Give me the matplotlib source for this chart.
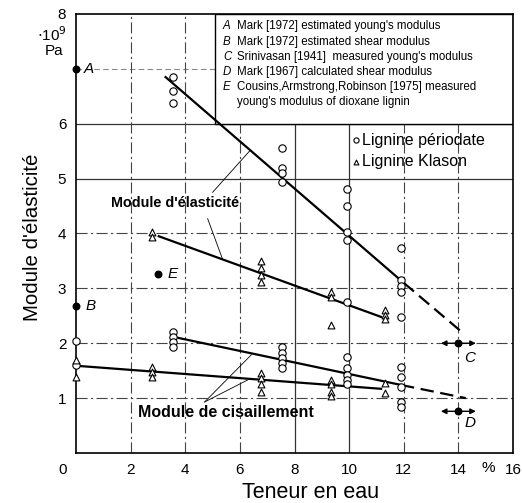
import matplotlib
matplotlib.use("Agg")
import matplotlib.pyplot as plt
from matplotlib.patches import Rectangle
from matplotlib.transforms import ScaledTranslation

# --------------------------
# DATA (water content %, modulus 1e9 Pa)
# --------------------------
# young's modulus, periodate lignin
e_per_x = [3.54] * 3 + [7.55] * 4 + [9.93] * 5 + [11.9] * 5
e_per_y = [6.85, 6.6, 6.38,
           5.55, 5.2, 5.1, 4.93,
           4.82, 4.5, 4.02, 3.88, 2.76,
           3.74, 3.16, 3.05, 2.94, 2.47]
# young's modulus, klason lignin
e_kla_x = [2.77] * 2 + [6.79] * 4 + [9.34] * 3 + [11.3] * 3
e_kla_y = [4.03, 3.94,
           3.49, 3.38, 3.25, 3.12,
           2.94, 2.85, 2.34,
           2.61, 2.52, 2.45]
# shear modulus, periodate lignin
g_per_x = [0.0] * 2 + [3.54] * 4 + [7.55] * 5 + [9.93] * 5 + [11.9] * 5
g_per_y = [2.05, 1.6,
           2.21, 2.12, 2.03, 1.93,
           1.94, 1.83, 1.74, 1.64, 1.55,
           1.75, 1.55, 1.42, 1.33, 1.26,
           1.57, 1.39, 1.21, 0.93, 0.84]
# shear modulus, klason lignin
g_kla_x = [0.0] * 2 + [2.77] * 3 + [6.79] * 4 + [9.34] * 4 + [11.3] * 2
g_kla_y = [1.7, 1.38,
           1.57, 1.48, 1.39,
           1.46, 1.37, 1.26, 1.11,
           1.33, 1.26, 1.11, 1.04,
           1.28, 1.1]

# fitted lines: solid part, then dashed extrapolation
e_per_fit_x = [3.28, 12.0, 14.09]
e_per_fit_y = [6.85, 3.1, 2.22]
e_kla_fit_x = [3.03, 11.17]
e_kla_fit_y = [3.95, 2.48]
g_per_fit_x = [3.72, 11.9, 14.27]
g_per_fit_y = [2.1, 1.24, 1.0]
g_kla_fit_x = [0.0, 11.17]
g_kla_fit_y = [1.59, 1.17]

# literature values
ref_names = ['A', 'B', 'C', 'D', 'E']
ref_x = [0.0, 0.0, 14.0, 14.0, 3.0]
ref_y = [7.0, 2.67, 2.0, 0.76, 3.27]
ref_text = [
    "Mark [1972] estimated young's modulus",
    "Mark [1972] estimated shear modulus",
    "Srinivasan [1941]  measured young's modulus",
    "Mark [1967] calculated shear modulus",
    "Cousins,Armstrong,Robinson [1975] measured",
]
ref_text_extra = "young's modulus of dioxane lignin"

xticks = [0, 2, 4, 6, 8, 10, 12, 14, 16]
yticks = [1, 2, 3, 4, 5, 6, 8]

# --------------------------
# FIGURE
# --------------------------
sans = ['Liberation Sans', 'DejaVu Sans']

fig = plt.figure(figsize=(5.22, 5.03), dpi=100)
ax = fig.add_axes([76 / 522, 1 - 453 / 503, 437 / 522, 439 / 503])
ax.set_xlim(0, 16)
ax.set_ylim(0, 8)

# grid
solid_h = [5, 6]
dash_h = [1, 2, 3, 4]
solid_v = [8, 10]
dash_v = [2, 4, 6, 12, 14]
for y in solid_h:
    ax.axhline(y, color='#333333', lw=0.9, zorder=1)
for y in dash_h:
    ax.axhline(y, color='#444444', lw=0.8, ls=(0, (10, 3, 2, 3)), zorder=1)
ax.axhline(7, color='#888888', lw=0.8, ls=(0, (5, 3)), zorder=1)
for x in solid_v:
    ax.axvline(x, color='#333333', lw=0.9, zorder=1)
for x in dash_v:
    ax.axvline(x, color='#444444', lw=0.8, ls=(0, (10, 3, 2, 3)), zorder=1)

# reference box
ax.add_patch(Rectangle((5.1, 6.0), 10.9, 2.0, facecolor='white',
                       edgecolor='black', lw=1.0, zorder=2))
row_y = [7.78, 7.49, 7.21, 6.94, 6.67, 6.39]
for i, name in enumerate(ref_names):
    ax.text(5.38, row_y[i], name, family=sans, style='italic',
            fontsize=8.3, va='center', zorder=3)
    ax.text(5.88, row_y[i], ref_text[i], family=sans,
            fontsize=8.3, va='center', zorder=3)
ax.text(5.88, row_y[5], ref_text_extra, family=sans,
        fontsize=8.3, va='center', zorder=3)

# fitted lines
ax.plot(e_per_fit_x[:2], e_per_fit_y[:2], color='black', lw=1.6, zorder=3)
ax.plot(e_per_fit_x[1:], e_per_fit_y[1:], color='black', lw=1.6,
        ls=(0, (6, 3)), zorder=3)
ax.plot(e_kla_fit_x, e_kla_fit_y, color='black', lw=1.6, zorder=3)
ax.plot(g_per_fit_x[:2], g_per_fit_y[:2], color='black', lw=1.6, zorder=3)
ax.plot(g_per_fit_x[1:], g_per_fit_y[1:], color='black', lw=1.6,
        ls=(0, (6, 3)), zorder=3)
ax.plot(g_kla_fit_x, g_kla_fit_y, color='black', lw=1.6, zorder=3)

# measured points
for xs, ys in [(e_per_x, e_per_y), (g_per_x, g_per_y)]:
    ax.scatter(xs, ys, marker='o', s=28, facecolors='white',
               edgecolors='black', linewidths=0.8, zorder=4, clip_on=False)
for xs, ys in [(e_kla_x, e_kla_y), (g_kla_x, g_kla_y)]:
    ax.scatter(xs, ys, marker='^', s=24, facecolors='white',
               edgecolors='black', linewidths=0.8, zorder=4, clip_on=False)

# literature points
ax.scatter(ref_x, ref_y, s=22, color='black', zorder=5, clip_on=False)
lbl_off = {'A': (0.3, 0.0), 'B': (0.35, 0.0), 'C': (0.22, -0.27),
           'D': (0.22, -0.22), 'E': (0.35, 0.0)}
for name, x, y in zip(ref_names, ref_x, ref_y):
    dx, dy = lbl_off[name]
    ax.text(x + dx, y + dy, name, family=sans, style='italic',
            fontsize=11, va='center', zorder=5)
# arrows around C and D
for i in [2, 3]:
    for d in (-0.64, 0.64):
        ax.annotate('', xy=(ref_x[i] + d, ref_y[i]), xytext=(ref_x[i], ref_y[i]),
                    arrowprops=dict(arrowstyle='-|>', color='black', lw=1.0,
                                    mutation_scale=8, shrinkA=0, shrinkB=0),
                    zorder=5)

# legend
ax.scatter([10.26], [5.7], marker='o', s=14, facecolors='white',
           edgecolors='black', linewidths=0.8, zorder=4)
ax.scatter([10.26], [5.31], marker='^', s=12, facecolors='white',
           edgecolors='black', linewidths=0.8, zorder=4)
ax.text(10.46, 5.7, 'Lignine périodate', family=sans, fontsize=11.5,
        va='center')
ax.text(10.46, 5.31, 'Lignine Klason', family=sans, fontsize=11.5,
        va='center')

# labels with leader lines
ax.text(3.61, 4.55, "Module d'élasticité", family=sans, fontsize=10.4,
        fontweight='bold', ha='center', va='center', zorder=5)
ax.plot([5.0, 6.35], [4.75, 5.5], color='black', lw=0.6, zorder=3)
ax.plot([4.82, 5.36], [4.27, 3.54], color='black', lw=0.6, zorder=3)
ax.text(5.47, 0.73, 'Module de cisaillement', family=sans, fontsize=11.5,
        fontweight='bold', ha='center', va='center', zorder=5)
ax.plot([4.71, 6.42], [0.93, 1.79], color='black', lw=0.6, zorder=3)
ax.plot([4.71, 6.28], [0.93, 1.33], color='black', lw=0.6, zorder=3)

# units
ax.text(-0.33, 7.63, r'$\cdot$10$^9$', family=sans, fontsize=11,
        ha='right', va='center', clip_on=False)
ax.text(-0.45, 7.32, 'Pa', family=sans, fontsize=11,
        ha='right', va='center', clip_on=False)
ax.text(15.1, -0.27, '%', family=sans, fontsize=11,
        ha='center', va='center', clip_on=False)

# ticks
ax.set_xticks(xticks)
ax.set_xticklabels([str(v) for v in xticks], family=sans, fontsize=11)
ax.set_yticks(yticks)
ax.set_yticklabels([str(v) for v in yticks], family=sans, fontsize=11)
ax.tick_params(length=0, pad=7)
lbl0 = ax.get_xticklabels()[0]
lbl0.set_transform(lbl0.get_transform() +
                   ScaledTranslation(-0.13, 0, fig.dpi_scale_trans))

for s in ax.spines.values():
    s.set_linewidth(1.2)
    s.set_color('black')

fig.text(33 / 522, 1 - 237 / 503, "Module d'élasticité", family=sans,
         fontsize=14.8, rotation=90, ha='center', va='center')
fig.text(311 / 522, 1 - 492 / 503, 'Teneur en eau', family=sans,
         fontsize=15.5, ha='center', va='center')

fig.savefig('out.png', dpi=100)
